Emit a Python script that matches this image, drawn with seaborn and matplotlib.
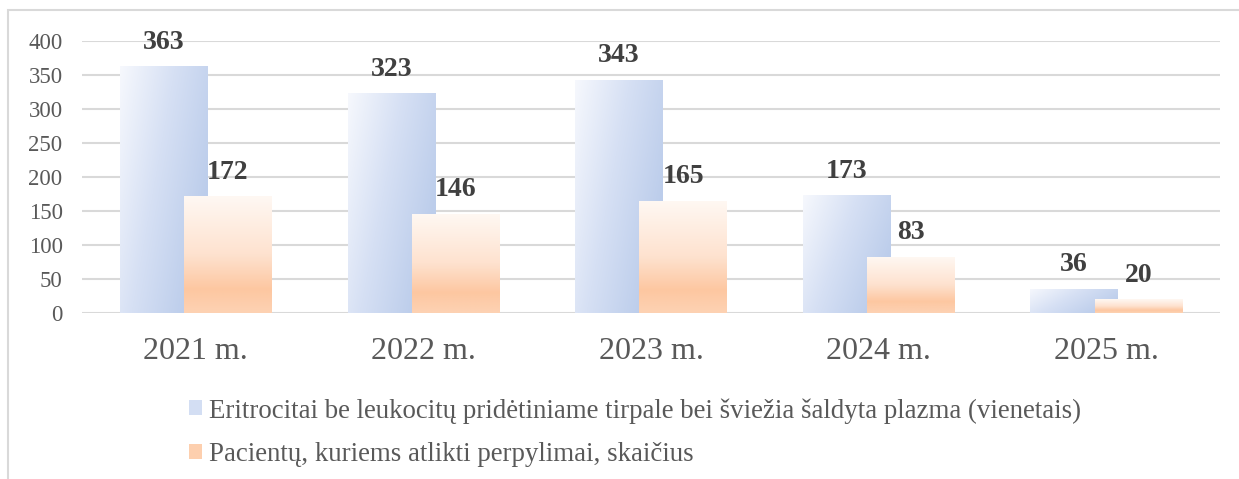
import numpy as np
import matplotlib
matplotlib.use("Agg")
import matplotlib.pyplot as plt
from matplotlib.colors import LinearSegmentedColormap
from matplotlib.patches import Patch, Rectangle
import pandas as pd
import seaborn as sns

# duomenys
years = ["2021 m.", "2022 m.", "2023 m.", "2024 m.", "2025 m."]
units = [363, 323, 343, 173, 36]
patients = [172, 146, 165, 83, 20]
series_names = [
    "Eritrocitai be leukocitų pridėtiniame tirpale bei šviežia šaldyta plazma (vienetais)",
    "Pacientų, kuriems atlikti perpylimai, skaičius",
]
yticks = [0, 50, 100, 150, 200, 250, 300, 350, 400]

df = pd.DataFrame({
    "year": years * 2,
    "value": units + patients,
    "series": [series_names[0]] * len(years) + [series_names[1]] * len(years),
})

sns.set_style("white")
plt.rcParams["font.family"] = ["Liberation Serif", "DejaVu Serif"]

fig = plt.figure(figsize=(12.39, 4.79), dpi=100)
ax = fig.add_axes([82 / 1239, 1 - 313 / 479, (1220 - 82) / 1239, (313 - 41) / 479])

sns.barplot(data=df, x="year", y="value", hue="series", palette=["#c5d4ee", "#fdcba6"],
            width=0.666, dodge=True, legend=False, ax=ax)

# gradientai
blue_cmap = LinearSegmentedColormap.from_list("b", ["#f6f8fd", "#d6e0f4", "#bccdeb"])
orange_cmap = LinearSegmentedColormap.from_list(
    "o", [(0, "#fff8f3"), (0.5, "#fee2cf"), (0.8, "#fdc7a1"), (1.0, "#fdd2b3")])

gx, gy = np.meshgrid(np.linspace(0, 1, 60), np.linspace(0, 1, 120))
blue_img = blue_cmap(np.clip(0.8 * gx + 0.4 * gy, 0, 1))
orange_img = orange_cmap(gy)

bw = 0.384
offsets = [-0.141, 0.141]
for k, cont in enumerate(ax.containers):
    for p in cont.patches:
        c = round(p.get_x() + p.get_width() / 2)
        p.set_width(bw)
        p.set_x(c + offsets[k] - bw / 2)
        p.set_facecolor("none")
        p.set_edgecolor("none")
        p.set_zorder(2 + k)
        h = p.get_height()
        img = blue_img if k == 0 else orange_img
        im = ax.imshow(img, extent=[p.get_x(), p.get_x() + bw, 0, h], origin="upper",
                       aspect="auto", zorder=2 + k, interpolation="bilinear")
        im.set_clip_path(p)
        ax.annotate(f"{int(h)}", (p.get_x() + bw / 2, h), xytext=(0, 12.5),
                    textcoords="offset points", ha="center", va="baseline",
                    fontsize=20, fontweight="bold", color="#404040",
                    annotation_clip=False, zorder=5)

ax.set_xlim(-0.5, 4.5)
ax.set_ylim(0, 400)
ax.set_yticks(yticks)
ax.yaxis.grid(True, color="#d9d9d9", linewidth=1.5)
ax.set_axisbelow(True)
for s in ax.spines.values():
    s.set_visible(False)
ax.tick_params(axis="y", length=0, pad=14, labelsize=16.5, labelcolor="#595959")
ax.tick_params(axis="x", length=0, pad=17, labelsize=23, labelcolor="#595959")
ax.set_xlabel("")
ax.set_ylabel("")

handles = [Patch(facecolor="#d3def3", edgecolor="none"),
           Patch(facecolor="#fdcfae", edgecolor="none")]
fig.legend(handles, series_names, loc="upper left", bbox_to_anchor=(189 / 1239, 1 - 398 / 479),
           frameon=False, fontsize=19.4, handlelength=0.48, handleheight=0.48,
           handletextpad=0.25, labelspacing=0.7, borderpad=0, borderaxespad=0,
           labelcolor="#595959")

# rėmelis
fig.add_artist(Rectangle((8 / 1239, -0.1), 1.2, 1.1 - 10 / 479, transform=fig.transFigure,
                         facecolor="none", edgecolor="#d9d9d9", linewidth=1.5))

fig.savefig("out.png", dpi=100)
